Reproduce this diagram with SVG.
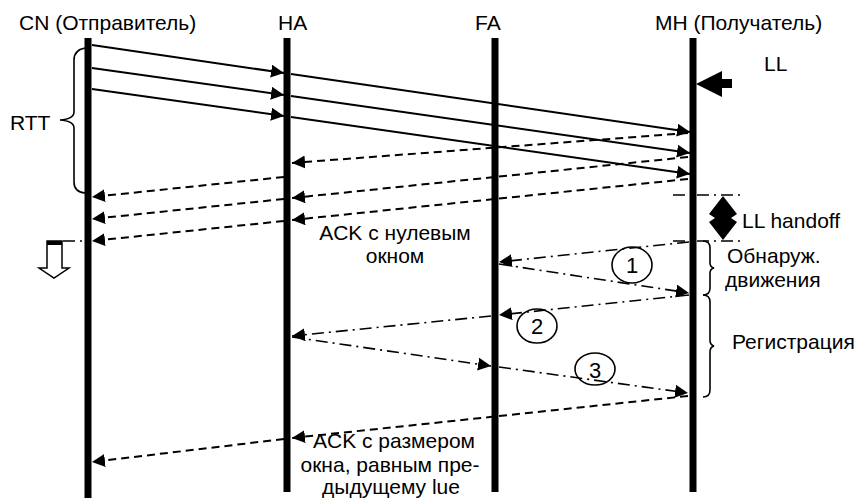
<svg xmlns="http://www.w3.org/2000/svg" width="859" height="503" viewBox="0 0 859 503">
<defs>
<marker id="ah" markerUnits="userSpaceOnUse" markerWidth="14" markerHeight="14" refX="13" refY="6.5" orient="auto">
<path d="M0,0 L13,6.5 L0,13 Z" fill="#000"/>
</marker>
</defs>
<style>
text{font-family:"Liberation Sans",Arial,sans-serif;font-size:21px;fill:#000}
.num{font-size:22px}
.life{stroke:#000;stroke-width:7}
.sol{stroke:#000;stroke-width:2;fill:none;marker-end:url(#ah)}
.dsh{stroke:#000;stroke-width:2;fill:none;stroke-dasharray:8 5;marker-end:url(#ah)}
.dd{stroke:#000;stroke-width:1.6;fill:none;stroke-dasharray:12 5 2 5;marker-end:url(#ah)}
.ddn{stroke:#000;stroke-width:1.6;fill:none;stroke-dasharray:12 5 2 5}
.brace{stroke:#000;stroke-width:1.6;fill:none}
.circ{stroke:#000;stroke-width:1.6;fill:none}
</style>
<rect width="859" height="503" fill="#fff"/>
<g id="CN">
<line class="life" x1="88" y1="38" x2="88" y2="498"/>
<text x="19" y="30">CN (Отправитель)</text>
</g>
<g id="HA">
<line class="life" x1="287" y1="38" x2="287" y2="492"/>
<text x="278" y="30">HA</text>
</g>
<g id="FA">
<line class="life" x1="495" y1="38" x2="495" y2="492"/>
<text x="475" y="30">FA</text>
</g>
<g id="MH">
<line class="life" x1="693" y1="38" x2="693" y2="492"/>
<text x="655" y="30">MH (Получатель)</text>
</g>
<g id="LL">
<text x="764" y="71">LL</text>
<polygon points="696,84 722,71 722,79 732,79 732,88 722,88 722,97" fill="#000"/>
</g>
<g id="RTT">
<path class="brace" d="M85,48 Q74,50 74,60 L74,112 Q74,119 60,120 Q74,121 74,128 L74,182 Q74,192 85,193"/>
<text x="10" y="130">RTT</text>
</g>
<g id="stop">
<rect x="47" y="241" width="15" height="4" fill="#000"/>
<polygon points="47,241 62,241 62,268 69,268 54,278 39,268 47,268" fill="none" stroke="#000" stroke-width="1.5"/>
</g>
<g id="handoff">
<line class="ddn" x1="673" y1="195" x2="743" y2="195"/>
<line class="ddn" x1="673" y1="241" x2="743" y2="241"/>
<path d="M723,196 L737,214 L731,218 L737,222 L723,240 L709,222 L715,218 L709,214 Z" fill="#000"/>
<text x="742" y="228">LL handoff</text>
</g>
<g id="detect">
<path class="brace" d="M703,241 Q710,241 710,248 L710,263 Q710,267 714,268 Q710,269 710,273 L710,288 Q710,295 703,295"/>
<text x="727" y="263">Обнаруж.</text>
<text x="725" y="287">движения</text>
</g>
<g id="reg">
<path class="brace" d="M703,295 Q710,295 710,302 L710,340 Q710,345 714,346 Q710,347 710,352 L710,390 Q710,397 703,397"/>
<text x="732" y="349">Регистрация</text>
</g>
<g id="c1">
<ellipse class="circ" cx="632" cy="265" rx="20" ry="18"/>
<text class="num" x="632" y="273" text-anchor="middle">1</text>
</g>
<g id="c2">
<ellipse class="circ" cx="537" cy="326" rx="20" ry="17"/>
<text class="num" x="537" y="334" text-anchor="middle">2</text>
</g>
<g id="c3">
<ellipse class="circ" cx="595" cy="369" rx="20" ry="16"/>
<text class="num" x="595" y="378" text-anchor="middle">3</text>
</g>
<g id="labels">
<text x="395" y="240" text-anchor="middle">ACK с нулевым</text>
<text x="395" y="263" text-anchor="middle">окном</text>
<text x="394" y="448" text-anchor="middle">ACK с размером</text>
<text x="390" y="472" text-anchor="middle">окна, равным пре-</text>
<text x="391" y="494" text-anchor="middle">дыдущему lue</text>
</g>
<g id="connectors">
<line class="sol" x1="92" y1="45" x2="284" y2="73"/>
<line class="sol" x1="291" y1="74" x2="690" y2="132"/>
<line class="sol" x1="92" y1="68" x2="284" y2="95"/>
<line class="sol" x1="291" y1="96" x2="690" y2="153"/>
<line class="sol" x1="92" y1="89" x2="284" y2="116"/>
<line class="sol" x1="291" y1="117" x2="690" y2="174"/>
<line class="dsh" x1="688" y1="133" x2="292" y2="163"/>
<line class="dsh" x1="284" y1="177" x2="92" y2="197"/>
<line class="dsh" x1="688" y1="157" x2="292" y2="198"/>
<line class="dsh" x1="284" y1="199" x2="92" y2="219"/>
<line class="dsh" x1="688" y1="179" x2="292" y2="220"/>
<line class="dsh" x1="284" y1="221" x2="92" y2="241"/>
<line class="ddn" x1="63" y1="241" x2="85" y2="241"/>
<line class="dd" x1="689" y1="242" x2="499" y2="262"/>
<line class="dd" x1="499" y1="264" x2="689" y2="293"/>
<line class="dd" x1="689" y1="295" x2="499" y2="315"/>
<line class="dd" x1="491" y1="316" x2="292" y2="336"/>
<line class="dd" x1="292" y1="337" x2="491" y2="366"/>
<line class="dd" x1="499" y1="367" x2="688" y2="393"/>
<line class="dsh" x1="688" y1="396" x2="292" y2="438"/>
<line class="dsh" x1="284" y1="439" x2="92" y2="462"/>
</g>
</svg>
